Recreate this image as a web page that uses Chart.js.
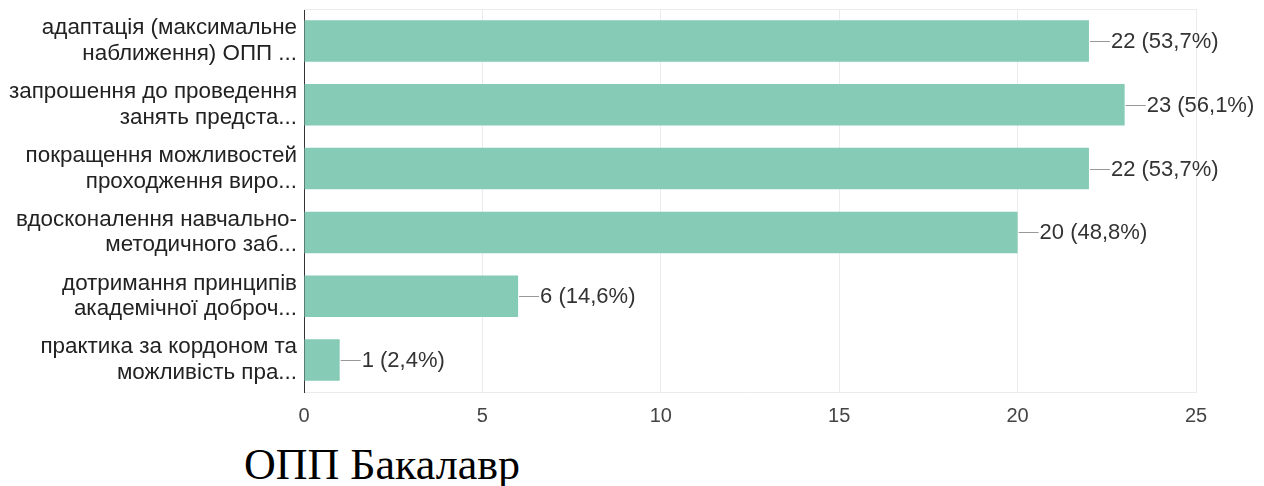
<!DOCTYPE html>
<html>
<head>
<meta charset="utf-8">
<script src="https://cdn.jsdelivr.net/npm/chart.js@4.4.0/dist/chart.umd.min.js"></script>
<style>
  html, body { margin: 0; padding: 0; background: #fff; }
  #wrap { position: relative; width: 1264px; height: 486px; overflow: hidden; }
  #chartBox { position: absolute; left: 0; top: 0; width: 1264px; height: 440px; }
  #caption {
    position: absolute; left: 244px; top: 443px;
    font-family: "Liberation Serif", "Times New Roman", serif;
    font-size: 44px; line-height: 1; color: #000; white-space: nowrap;
  }
</style>
</head>
<body>
<div id="wrap">
  <div id="chartBox"><canvas id="grafico"></canvas></div>
  <div id="caption">ОПП Бакалавр</div>
</div>
<script>
// Categorias (rótulos em duas linhas, truncados como no original)
const categorias = [
  ['адаптація (максимальне', 'наближення) ОПП ...'],
  ['запрошення до проведення', 'занять предста...'],
  ['покращення можливостей', 'проходження виро...'],
  ['вдосконалення навчально-', 'методичного заб...'],
  ['дотримання принципів', 'академічної доброч...'],
  ['практика за кордоном та', 'можливість пра...']
];
const valores = [22, 23, 22, 20, 6, 1];
const percentuais = ['53,7%', '56,1%', '53,7%', '48,8%', '14,6%', '2,4%'];
const ticksX = [0, 5, 10, 15, 20, 25];

const COR_BARRA = '#85cbb5';
const FONTE = '"Liberation Sans", Arial, sans-serif';

// Rótulos no fim da barra com linha guia
const rotulosPlugin = {
  id: 'rotulos',
  afterDatasetsDraw(chart) {
    const ctx = chart.ctx;
    const meta = chart.getDatasetMeta(0);
    ctx.save();
    ctx.font = '22px ' + FONTE;
    ctx.textBaseline = 'middle';
    ctx.textAlign = 'left';
    meta.data.forEach((bar, i) => {
      const x = bar.x, y = bar.y;
      ctx.strokeStyle = '#999';
      ctx.lineWidth = 1;
      ctx.beginPath();
      ctx.moveTo(x + 1, Math.round(y) + 0.5);
      ctx.lineTo(x + 21, Math.round(y) + 0.5);
      ctx.stroke();
      ctx.fillStyle = '#333';
      ctx.fillText(valores[i] + ' (' + percentuais[i] + ')', x + 22, y + 1);
    });
    ctx.restore();
  }
};

// Linha superior da área do gráfico
const bordaTopo = {
  id: 'bordaTopo',
  beforeDatasetsDraw(chart) {
    const { ctx, chartArea } = chart;
    ctx.save();
    ctx.strokeStyle = '#ebebeb';
    ctx.lineWidth = 1;
    ctx.beginPath();
    ctx.moveTo(chartArea.left, chartArea.top + 0.5);
    ctx.lineTo(chartArea.right, chartArea.top + 0.5);
    ctx.stroke();
    ctx.restore();
  }
};

new Chart(document.getElementById('grafico').getContext('2d'), {
  type: 'bar',
  data: {
    labels: categorias,
    datasets: [{
      data: valores,
      backgroundColor: COR_BARRA,
      borderWidth: 0,
      categoryPercentage: 0.65,
      barPercentage: 1.0
    }]
  },
  options: {
    indexAxis: 'y',
    responsive: true,
    maintainAspectRatio: false,
    animation: false,
    layout: { padding: { left: 0, right: 68, top: 9, bottom: 0 } },
    plugins: {
      legend: { display: false },
      tooltip: { enabled: false }
    },
    scales: {
      x: {
        min: 0,
        max: 25,
        afterBuildTicks(axis) {
          axis.ticks = ticksX.map(v => ({ value: v }));
        },
        afterFit(axis) { axis.height = 48; axis.paddingLeft = 0; axis.paddingRight = 0; },
        grid: { color: '#ebebeb', drawTicks: false },
        border: { color: '#ebebeb' },
        ticks: {
          padding: 12,
          color: '#444',
          font: { family: FONTE, size: 20 }
        }
      },
      y: {
        afterFit(axis) { axis.width = 304; axis.paddingTop = 0; axis.paddingBottom = 0; },
        grid: { display: false, drawTicks: false },
        border: { color: '#333', width: 1 },
        ticks: {
          padding: 7,
          color: '#222',
          font: { family: FONTE, size: 22.4, lineHeight: 1.15 }
        }
      }
    }
  },
  plugins: [rotulosPlugin, bordaTopo]
});
</script>
</body>
</html>
